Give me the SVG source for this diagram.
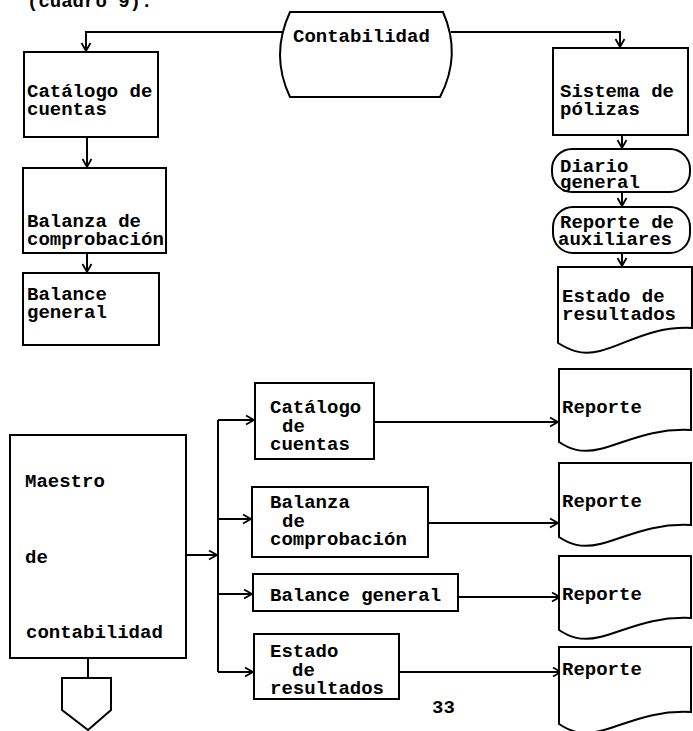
<svg xmlns="http://www.w3.org/2000/svg" width="693" height="731" viewBox="0 0 693 731">
<defs>
<style>
.s{fill:#fff;stroke:#000;stroke-width:2}
.c{fill:none;stroke:#000;stroke-width:2}
text{font-family:"Liberation Mono","DejaVu Sans Mono",monospace;font-size:19px;font-weight:bold;fill:#000}
</style>
<marker id="a" markerWidth="12" markerHeight="12" refX="10" refY="6" orient="auto" markerUnits="userSpaceOnUse">
<path d="M2,1.5 L10,6 L2,10.5" fill="none" stroke="#000" stroke-width="1.8"/>
</marker>
</defs>
<rect width="693" height="731" fill="#fff"/>
<text x="27" y="7">(cuadro 9).</text>

<g id="connectors">
<path class="c" d="M282,32 H86 V51" marker-end="url(#a)"/>
<path class="c" d="M451,32 H620 V47" marker-end="url(#a)"/>
<path class="c" d="M87,137 V167" marker-end="url(#a)"/>
<path class="c" d="M87,253 V272" marker-end="url(#a)"/>
<path class="c" d="M622,135 V148" marker-end="url(#a)"/>
<path class="c" d="M622,192 V206" marker-end="url(#a)"/>
<path class="c" d="M622,253 V266" marker-end="url(#a)"/>
<path class="c" d="M88,658 V678"/>
<path class="c" d="M186,555 H217" marker-end="url(#a)"/>
<path class="c" d="M218,420 V672"/>
<path class="c" d="M218,420 H254" marker-end="url(#a)"/>
<path class="c" d="M218,519 H251" marker-end="url(#a)"/>
<path class="c" d="M218,594 H252" marker-end="url(#a)"/>
<path class="c" d="M218,672 H253" marker-end="url(#a)"/>
<path class="c" d="M374,422 H558" marker-end="url(#a)"/>
<path class="c" d="M428,523 H558" marker-end="url(#a)"/>
<path class="c" d="M458,597 H560" marker-end="url(#a)"/>
<path class="c" d="M399,672 H561" marker-end="url(#a)"/>
</g>

<g id="contabilidad">
<path class="s" d="M290,12 L443,12 Q462,55 440,97 L290,97 Q270,55 290,12 Z"/>
<text x="293" y="42">Contabilidad</text>
</g>

<g id="catalogo">
<rect class="s" x="24" y="52" width="134" height="85"/>
<text x="27" y="97">Catálogo de</text>
<text x="27" y="115">cuentas</text>
</g>

<g id="balanza">
<rect class="s" x="23" y="168" width="143" height="85"/>
<text x="27" y="227">Balanza de</text>
<text x="27" y="245">comprobación</text>
</g>

<g id="balance">
<rect class="s" x="23" y="273" width="136" height="72"/>
<text x="27" y="300">Balance</text>
<text x="27" y="318">general</text>
</g>

<g id="sistema">
<rect class="s" x="553" y="48" width="135" height="87"/>
<text x="560" y="97">Sistema de</text>
<text x="560" y="115">pólizas</text>
</g>

<g id="diario">
<rect class="s" x="552" y="149" width="138" height="43" rx="20" ry="20"/>
<text x="560" y="172">Diario</text>
<text x="560" y="188">general</text>
</g>

<g id="auxiliares">
<rect class="s" x="553" y="207" width="137" height="46" rx="20" ry="20"/>
<text x="560" y="228">Reporte de</text>
<text x="558" y="245">auxiliares</text>
</g>

<g id="estado">
<path class="s" d="M558,267 H692 V328 C650,326 625,345 600,351 C580,356 568,349 558,343 Z"/>
<text x="562" y="302">Estado de</text>
<text x="562" y="320">resultados</text>
</g>

<g id="maestro">
<rect class="s" x="10" y="435" width="176" height="223"/>
<text x="25" y="487">Maestro</text>
<text x="25" y="563">de</text>
<text x="26" y="638">contabilidad</text>
</g>

<g id="conector">
<path class="s" d="M62,678 H111 V710 L88,730 L62,710 Z"/>
</g>

<g id="b-catalogo">
<rect class="s" x="255" y="383" width="119" height="76"/>
<text x="270" y="413">Catálogo</text>
<text x="282" y="432">de</text>
<text x="270" y="450">cuentas</text>
</g>

<g id="b-balanza">
<rect class="s" x="252" y="487" width="176" height="70"/>
<text x="270" y="508">Balanza</text>
<text x="282" y="527">de</text>
<text x="270" y="545">comprobación</text>
</g>

<g id="b-balance">
<rect class="s" x="253" y="574" width="205" height="37"/>
<text x="270" y="601">Balance general</text>
</g>

<g id="b-estado">
<rect class="s" x="254" y="634" width="145" height="65"/>
<text x="270" y="657">Estado</text>
<text x="292" y="676">de</text>
<text x="270" y="694">resultados</text>
</g>

<g id="reporte1">
<path class="s" d="M559,369 H691 V430 C650,428 625,443 600,449 C580,454 568,448 559,442 Z"/>
<text x="562" y="413">Reporte</text>
</g>
<g id="reporte2">
<path class="s" d="M559,463 H691 V525 C650,523 625,538 600,544 C580,549 568,543 559,537 Z"/>
<text x="562" y="507">Reporte</text>
</g>
<g id="reporte3">
<path class="s" d="M559,556 H691 V618 C650,616 625,631 600,637 C580,642 568,636 559,630 Z"/>
<text x="562" y="600">Reporte</text>
</g>
<g id="reporte4">
<path class="s" d="M559,647 H691 V712 C650,710 625,725 600,731 C580,736 568,730 559,724 Z"/>
<text x="562" y="675">Reporte</text>
</g>

<text x="432" y="713">33</text>
</svg>
